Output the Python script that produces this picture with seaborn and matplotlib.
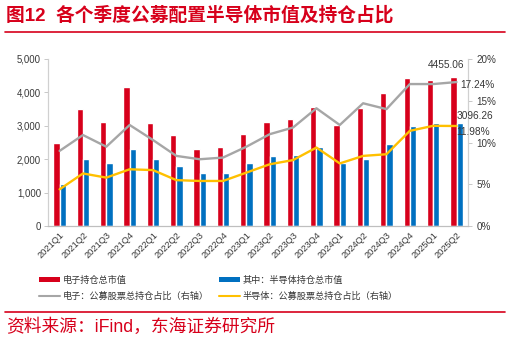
import numpy as np
import pandas as pd
import matplotlib
matplotlib.use("Agg")
import matplotlib.pyplot as plt
import seaborn as sns
from matplotlib.patches import Patch
from matplotlib.lines import Line2D

sns.set_theme(style="white")
plt.rcParams["font.family"] = ["Liberation Sans", "Noto Sans CJK SC", "DejaVu Sans"]
plt.rcParams["axes.unicode_minus"] = False

quarters = ["2021Q1", "2021Q2", "2021Q3", "2021Q4", "2022Q1", "2022Q2", "2022Q3", "2022Q4",
            "2023Q1", "2023Q2", "2023Q3", "2023Q4", "2024Q1", "2024Q2", "2024Q3", "2024Q4",
            "2025Q1", "2025Q2"]
elec_value = [2500, 3500, 3100, 4170, 3070, 2720, 2320, 2360, 2750, 3100, 3190, 3550,
              3020, 3520, 3990, 4440, 4370, 4455.06]
semi_value = [1250, 2020, 1900, 2320, 2020, 1790, 1580, 1580, 1880, 2090, 2120, 2360,
              1880, 2020, 2450, 2980, 3090, 3096.26]
elec_share = [9.0, 10.9, 9.5, 12.1, 10.3, 8.4, 8.0, 8.2, 9.5, 11.0, 11.8, 14.1,
              12.1, 14.7, 14.0, 17.0, 17.0, 17.24]
semi_share = [4.4, 6.3, 5.8, 6.8, 6.7, 5.5, 5.4, 5.4, 6.4, 7.4, 7.9, 9.4,
              7.5, 8.4, 8.6, 11.4, 12.0, 11.98]

label_elec = "电子持仓总市值"
label_semi = "其中：半导体持仓总市值"
label_elec_share = "电子：公募股票总持仓占比（右轴）"
label_semi_share = "半导体：公募股票总持仓占比（右轴）"

RED = "#D7001B"
BLUE = "#0070C0"
GRAY = "#A6A6A6"
GOLD = "#FFC000"
TXT = "#383838"

df = pd.DataFrame({
    "quarter": quarters * 2,
    "value": elec_value + semi_value,
    "series": [label_elec] * len(quarters) + [label_semi] * len(quarters),
})

fig = plt.figure(figsize=(5.10, 3.41), dpi=100)
ax = fig.add_axes([0.094, 0.337, 0.824, 0.490])

sns.barplot(data=df, x="quarter", y="value", hue="series", palette=[RED, BLUE],
            width=0.54, gap=0.0, dodge=True, ax=ax, legend=False, saturation=1)

ax.set_ylim(0, 5000)
ax.set_yticks(range(0, 5001, 1000))
ax.set_yticklabels([f"{v:,}" for v in range(0, 5001, 1000)], fontsize=6.9, color=TXT)
ax.set_xlim(-0.5, len(quarters) - 0.5)
ax.set_xlabel("")
ax.set_ylabel("")
ax.set_xticks(range(len(quarters)))
ax.set_xticklabels(quarters, rotation=45, ha="right", rotation_mode="anchor",
                   fontsize=6.7, color=TXT)
ax.tick_params(axis="x", length=0, pad=3)
ax.tick_params(axis="y", length=3, width=0.6, color="#BFBFBF", pad=2, direction="out")

ax2 = ax.twinx()
xs = np.arange(len(quarters))
sns.lineplot(x=xs, y=elec_share, ax=ax2, color=GRAY, linewidth=1.7)
sns.lineplot(x=xs, y=semi_share, ax=ax2, color=GOLD, linewidth=1.7)
ax2.set_ylim(0, 20)
ax2.set_yticks(range(0, 21, 5))
ax2.set_yticklabels([f"{v}%" for v in range(0, 21, 5)], fontsize=7.1, color=TXT)
ax2.tick_params(axis="y", length=3, width=0.6, color="#BFBFBF", pad=3, direction="out")
ax2.set_xlim(-0.5, len(quarters) - 0.5)

for a in (ax, ax2):
    a.spines["top"].set_visible(False)
    a.spines["left"].set_color("#D0D0D0")
    a.spines["right"].set_color("#D0D0D0")
    a.spines["bottom"].set_color("#BFBFBF")
    for s in a.spines.values():
        s.set_linewidth(0.8)

# value labels at the latest quarter (drawn on the top axes so lines don't cover them)
last = len(quarters) - 1
ax2.annotate(f"{elec_value[-1]:.2f}", (last - 0.14, elec_value[-1]), xycoords=ax.transData,
             xytext=(-5, 5), textcoords="offset points", ha="center", va="bottom",
             fontsize=7.3, color=TXT)
ax2.annotate(f"{semi_value[-1]:.2f}", (last, semi_value[-1]), xycoords=ax.transData,
             xytext=(0, 1), textcoords="offset points", ha="left", va="bottom",
             fontsize=7.3, color=TXT)
ax2.annotate(f"{elec_share[-1]:.2f}%", (last, elec_share[-1]), xytext=(3, -2),
             textcoords="offset points", ha="left", va="center", fontsize=7.3, color=TXT)
ax2.annotate(f"{semi_share[-1]:.2f}%", (last, semi_share[-1]), xytext=(0, -4),
             textcoords="offset points", ha="left", va="center", fontsize=7.3, color=TXT)

legend_kw = dict(loc="center left", frameon=False, fontsize=6.6, handlelength=2.3,
                 handleheight=0.55, handletextpad=0.25, labelspacing=0.75,
                 borderaxespad=0, borderpad=0)
leg1 = fig.legend([Patch(facecolor=RED, edgecolor="none"),
                   Line2D([0], [0], color=GRAY, lw=1.5)],
                  [label_elec, label_elec_share],
                  bbox_to_anchor=(39 / 510, 0.155), **legend_kw)
leg2 = fig.legend([Patch(facecolor=BLUE, edgecolor="none"),
                   Line2D([0], [0], color=GOLD, lw=1.5)],
                  [label_semi, label_semi_share],
                  bbox_to_anchor=(219 / 510, 0.155), **legend_kw)
for lg in (leg1, leg2):
    for t in lg.get_texts():
        t.set_color(TXT)

# header and footer
fig.text(0.012, 0.955, "图12  各个季度公募配置半导体市值及持仓占比", fontsize=13.5,
         fontweight="bold", color=RED, va="center", ha="left")
fig.add_artist(Line2D([0.01, 0.99], [0.905, 0.905], color=RED, lw=1.2,
                      transform=fig.transFigure))
fig.add_artist(Line2D([0.01, 0.99], [0.085, 0.085], color=RED, lw=1.2,
                      transform=fig.transFigure))
fig.text(0.012, 0.041, "资料来源：iFind，东海证券研究所", fontsize=12.8, color=RED,
         va="center", ha="left")

fig.savefig("out.png", dpi=100)
